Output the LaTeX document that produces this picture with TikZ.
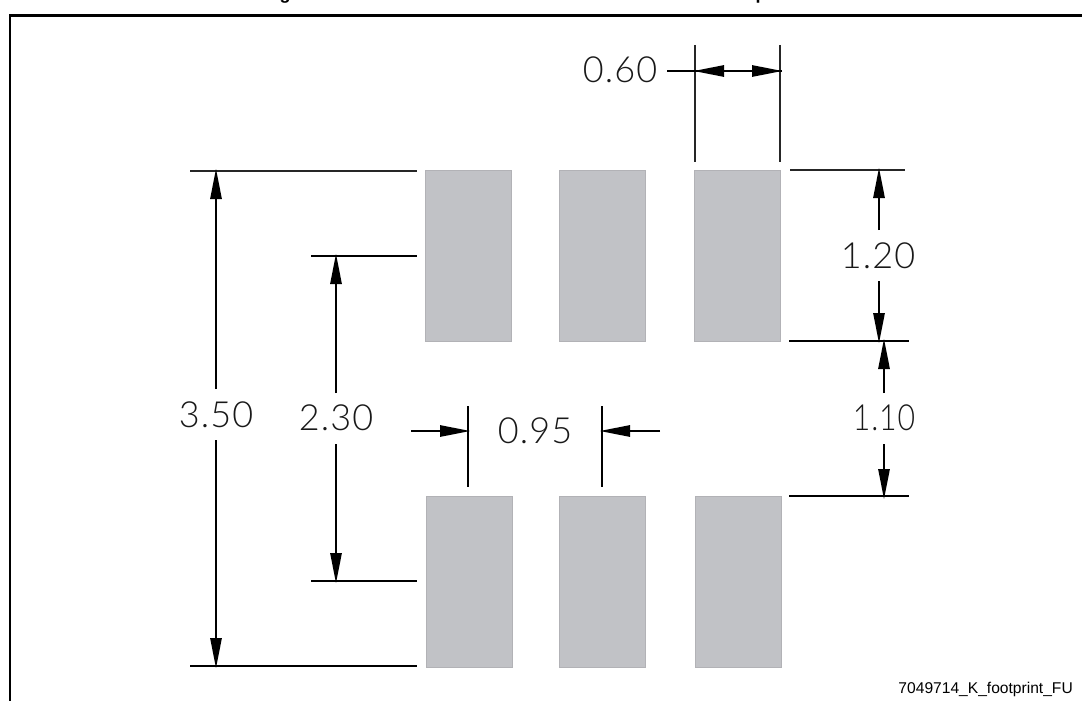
\documentclass[tikz,border=0pt]{standalone}
\usepackage{fontspec}
\setmainfont{Liberation Sans}
\newfontfamily\cadfont[LetterSpace=3]{Lato Light}
\usetikzlibrary{arrows.meta}
\definecolor{padgrey}{HTML}{C1C2C6}
\tikzset{
  x=1pt,y=-1pt,
  pad/.style={fill=padgrey,draw=padgrey!92!black,line width=0.5pt,minimum width=86pt,minimum height=171pt,inner sep=0pt,outer sep=0pt,anchor=north west},
  frameline/.style={line width=2.4pt,black},
  extline/.style={line width=1.4pt,black!85},
  dimline/.style={line width=1.3pt,black,-{Triangle[length=30pt,width=11.5pt]}},
  plainline/.style={line width=1.3pt,black},
  dimtext/.style={font=\cadfont\fontsize{36}{36}\selectfont,inner sep=0pt,outer sep=0pt,text=black!90},
}
\begin{document}
\begin{tikzpicture}
\useasboundingbox (0,0) rectangle (1082,701);
% clipped title remnants
\node[font=\bfseries\fontsize{18}{18}\selectfont,anchor=base,inner sep=0pt] (titleg) at (285,0) {g};
\node[font=\bfseries\fontsize{18}{18}\selectfont,anchor=base,inner sep=0pt] (titlep) at (761,0) {p};
% frame
\coordinate (fbl) at (10,701); \coordinate (ftl) at (10,15.5); \coordinate (ftr) at (1082,15.5);
\draw[frameline] (fbl) -- (ftl) -- (ftr);
% pads
\node[pad] (p1) at (425,170) {};
\node[pad] (p2) at (559,170) {};
\node[pad] (p3) at (694,170) {};
\node[pad] (p4) at (426,496) {};
\node[pad] (p5) at (559,496) {};
\node[pad] (p6) at (695,496) {};
% texts
\node[dimtext] (t060) at (620,70) {0.60};
\node[dimtext] (t120) at (878,256) {1.20};
\node[dimtext,xscale=0.84] (t110) at (884,418) {1.10};
\node[dimtext] (t350) at (216,415) {3.50};
\node[dimtext] (t230) at (336,418) {2.30};
\node[dimtext] (t095) at (535,431) {0.95};
\node[font=\fontsize{15.6}{15.6}\selectfont,anchor=base east,inner sep=0pt] (fn) at (1073,693) {7049714\_K\_footprint\_FU};
% 0.60
\coordinate (a1) at (695,45); \coordinate (a2) at (695,162);
\coordinate (b1) at (780,45); \coordinate (b2) at (780,162);
\draw[extline] (a1) -- (a2); \draw[extline] (b1) -- (b2);
\coordinate (c0) at (667,71); \coordinate (c1) at (694,71); \coordinate (c2) at (782,71);
\draw[plainline] (c0) -- (c1);
\draw[dimline] (c1) -- (c2);
\draw[dimline] (c2) -- (c1);
% 3.50
\coordinate (d1) at (190,171); \coordinate (d2) at (417,171);
\coordinate (e1) at (190,666); \coordinate (e2) at (417,666);
\draw[extline] (d1) -- (d2); \draw[plainline] (e1) -- (e2);
\coordinate (d3) at (216,389); \coordinate (d4) at (216,169);
\coordinate (e3) at (216,440); \coordinate (e4) at (216,668);
\draw[dimline] (d3) -- (d4); \draw[dimline] (e3) -- (e4);
% 2.30
\coordinate (f1) at (311,256); \coordinate (f2) at (417,256);
\coordinate (g1) at (311,581); \coordinate (g2) at (417,581);
\draw[plainline] (f1) -- (f2); \draw[plainline] (g1) -- (g2);
\coordinate (f3) at (336,393); \coordinate (f4) at (336,254);
\coordinate (g3) at (336,444); \coordinate (g4) at (336,583);
\draw[dimline] (f3) -- (f4); \draw[dimline] (g3) -- (g4);
% 0.95
\coordinate (h1) at (468,406); \coordinate (h2) at (468,487);
\coordinate (i1) at (602,406); \coordinate (i2) at (602,487);
\draw[plainline] (h1) -- (h2); \draw[plainline] (i1) -- (i2);
\coordinate (h3) at (411,431); \coordinate (h4) at (470,431);
\coordinate (i3) at (660,431); \coordinate (i4) at (600,431);
\draw[dimline] (h3) -- (h4); \draw[dimline] (i3) -- (i4);
% right side
\coordinate (j1) at (790,170); \coordinate (j2) at (905,170);
\coordinate (k1) at (789,341); \coordinate (k2) at (909,341);
\coordinate (l1) at (789,496); \coordinate (l2) at (909,496);
\draw[extline] (j1) -- (j2); \draw[plainline] (k1) -- (k2); \draw[plainline] (l1) -- (l2);
\coordinate (m1) at (879,230); \coordinate (m2) at (879,168);
\coordinate (n1) at (879,281); \coordinate (n2) at (879,343);
\draw[dimline] (m1) -- (m2); \draw[dimline] (n1) -- (n2);
\coordinate (o1) at (884,393); \coordinate (o2) at (884,339);
\coordinate (q1) at (884,444); \coordinate (q2) at (884,499);
\draw[dimline] (o1) -- (o2); \draw[dimline] (q1) -- (q2);
\end{tikzpicture}
\end{document}
